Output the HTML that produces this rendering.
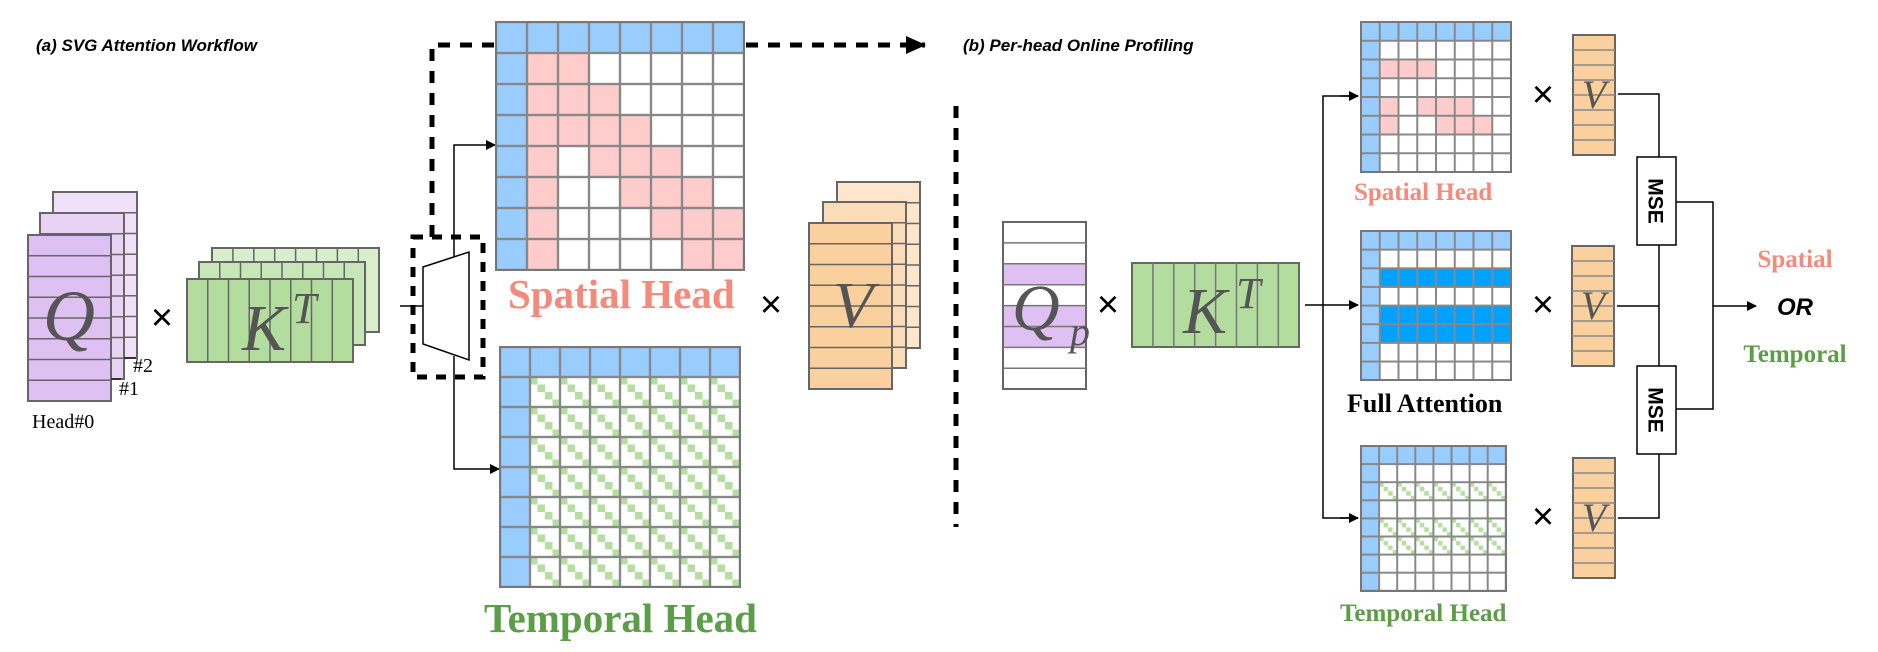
<!DOCTYPE html>
<html><head><meta charset="utf-8"><style>
html,body{margin:0;padding:0;background:#fff}
svg{display:block}
.s{font-family:"Liberation Serif",serif}
.it{font-family:"Liberation Serif",serif;font-style:italic;fill:#555}
.x{font-family:"Liberation Sans",sans-serif;font-size:38px;fill:#000}
</style></head><body>
<svg width="1878" height="652" viewBox="0 0 1878 652" xmlns="http://www.w3.org/2000/svg">
<defs>
<pattern id="g31" patternUnits="userSpaceOnUse" x="496" y="22" width="31" height="31"><rect width="31" height="31" fill="none" stroke="#888" stroke-width="2.4"/></pattern>
<pattern id="g30" patternUnits="userSpaceOnUse" x="500" y="347" width="30" height="30"><rect width="30" height="30" fill="none" stroke="#888" stroke-width="2.4"/></pattern>
<pattern id="t30" patternUnits="userSpaceOnUse" x="530" y="377" width="30" height="30"><rect x="0" y="0" width="7.5" height="7.5" fill="#b5dfa0"/><rect x="7.5" y="7.5" width="7.5" height="7.5" fill="#b5dfa0"/><rect x="15" y="15" width="7.5" height="7.5" fill="#b5dfa0"/><rect x="22.5" y="22.5" width="7.5" height="7.5" fill="#b5dfa0"/></pattern>
<pattern id="gr" patternUnits="userSpaceOnUse" x="1361" y="22" width="18.75" height="18.75"><rect width="18.75" height="18.75" fill="none" stroke="#888" stroke-width="2"/></pattern>
<pattern id="gf" patternUnits="userSpaceOnUse" x="1361" y="231" width="18.75" height="18.65"><rect width="18.75" height="18.65" fill="none" stroke="#888" stroke-width="2"/></pattern>
<pattern id="gt" patternUnits="userSpaceOnUse" x="1361" y="446" width="18.1" height="18.1"><rect width="18.1" height="18.1" fill="none" stroke="#888" stroke-width="2"/></pattern>
<pattern id="tt" patternUnits="userSpaceOnUse" x="1379.1" y="482.2" width="18.1" height="18.1"><rect x="0" y="0" width="4.5" height="4.5" fill="#b5dfa0"/><rect x="4.5" y="4.5" width="4.5" height="4.5" fill="#b5dfa0"/><rect x="9" y="9" width="4.5" height="4.5" fill="#b5dfa0"/><rect x="13.6" y="13.6" width="4.5" height="4.5" fill="#b5dfa0"/></pattern>
<marker id="ah" markerWidth="10" markerHeight="10" refX="9" refY="5" orient="auto" markerUnits="userSpaceOnUse"><path d="M0,0 L10,5 L0,10 z" fill="#000"/></marker>
<marker id="ahb" markerWidth="20" markerHeight="18" refX="19" refY="9" orient="auto" markerUnits="userSpaceOnUse"><path d="M0,0 L20,9 L0,18 z" fill="#000"/></marker>
</defs>

<text x="36" y="51" font-family="Liberation Sans,sans-serif" font-weight="bold" font-style="italic" font-size="17">(a) SVG Attention Workflow</text>
<text x="963" y="51" font-family="Liberation Sans,sans-serif" font-weight="bold" font-style="italic" font-size="17">(b) Per-head Online Profiling</text>

<g stroke="#666" stroke-width="2">
<rect x="53" y="192" width="84" height="166" fill="#f0e0f8"/>
<path d="M53 212.75h84m-84 20.75h84m-84 20.75h84m-84 20.75h84m-84 20.75h84m-84 20.75h84m-84 20.75h84" stroke-width="1.5"/>
<rect x="40" y="213" width="84" height="166" fill="#e9d3f5"/>
<path d="M40 233.75h84m-84 20.75h84m-84 20.75h84m-84 20.75h84m-84 20.75h84m-84 20.75h84m-84 20.75h84" stroke-width="1.5"/>
<rect x="28" y="235" width="83" height="166" fill="#dfc0f2"/>
<path d="M28 255.75h83m-83 20.75h83m-83 20.75h83m-83 20.75h83m-83 20.75h83m-83 20.75h83m-83 20.75h83" stroke-width="1.5"/>
</g>
<path d="M124 358h12M111 379h10" stroke="#000" stroke-width="1"/>
<text class="it" x="69" y="340" font-size="72" text-anchor="middle">Q</text>
<text class="s" x="133" y="372" font-size="20">#2</text>
<text class="s" x="119" y="395" font-size="20">#1</text>
<text class="s" x="32" y="428" font-size="20">Head#0</text>
<text class="x" x="162" y="318" text-anchor="middle" dominant-baseline="central">×</text>

<g stroke="#666" stroke-width="2">
<rect x="212" y="248" width="167" height="84" fill="#d8eecd"/>
<path d="M232.9 248v84m20.9 -84v84m20.9 -84v84m20.9 -84v84m20.9 -84v84m20.9 -84v84m20.9 -84v84" stroke-width="1.5"/>
<rect x="199" y="262" width="166" height="83" fill="#c8e7b8"/>
<path d="M219.75 262v83m20.75 -83v83m20.75 -83v83m20.75 -83v83m20.75 -83v83m20.75 -83v83m20.75 -83v83" stroke-width="1.5"/>
<rect x="187" y="279" width="166" height="83" fill="#b3dd9f"/>
<path d="M207.75 279v83m20.75 -83v83m20.75 -83v83m20.75 -83v83m20.75 -83v83m20.75 -83v83m20.75 -83v83" stroke-width="1.5"/>
</g>
<text class="it" x="242" y="350" font-size="66">K</text>
<text class="it" x="292" y="323" font-size="44">T</text>

<path d="M400 306H423" stroke="#000" stroke-width="1.5"/>
<path d="M423 267L469 252V360L423 344Z" fill="#fff" stroke="#000" stroke-width="1.5"/>
<path d="M454 257V145H495" fill="none" stroke="#000" stroke-width="1.5" marker-end="url(#ah)"/>
<path d="M454 356V469H499" fill="none" stroke="#000" stroke-width="1.5" marker-end="url(#ah)"/>
<rect x="413" y="237" width="70" height="140" fill="none" stroke="#000" stroke-width="5" stroke-dasharray="10,9"/>
<path d="M432 237V45H925" fill="none" stroke="#000" stroke-width="5" stroke-dasharray="12,10" marker-end="url(#ahb)"/>

<rect x="496" y="22" width="248" height="248" fill="#fff"/>
<rect x="496" y="22" width="248" height="31" fill="#99ccff"/>
<rect x="496" y="22" width="31" height="248" fill="#99ccff"/>
<g fill="#ffcccc">
<rect x="527" y="53" width="62" height="31"/>
<rect x="527" y="84" width="93" height="31"/>
<rect x="527" y="115" width="124" height="31"/>
<rect x="527" y="146" width="31" height="31"/><rect x="589" y="146" width="93" height="31"/>
<rect x="527" y="177" width="31" height="31"/><rect x="620" y="177" width="93" height="31"/>
<rect x="527" y="208" width="31" height="31"/><rect x="651" y="208" width="93" height="31"/>
<rect x="527" y="239" width="31" height="31"/><rect x="682" y="239" width="62" height="31"/>
</g>
<rect x="496" y="22" width="248" height="248" fill="url(#g31)" stroke="#777" stroke-width="2"/>
<text x="508" y="308" font-family="Liberation Serif,serif" font-weight="bold" font-size="41" fill="#f4897c">Spatial Head</text>

<rect x="500" y="347" width="240" height="240" fill="#fff"/>
<rect x="530" y="377" width="210" height="210" fill="url(#t30)"/>
<rect x="500" y="347" width="240" height="30" fill="#99ccff"/>
<rect x="500" y="347" width="30" height="240" fill="#99ccff"/>
<rect x="500" y="347" width="240" height="240" fill="url(#g30)" stroke="#777" stroke-width="2"/>
<text x="484" y="632" font-family="Liberation Serif,serif" font-weight="bold" font-size="41" fill="#5b9e47">Temporal Head</text>

<text class="x" x="771" y="305" text-anchor="middle" dominant-baseline="central">×</text>

<g stroke="#666" stroke-width="2">
<rect x="837" y="182" width="83" height="166" fill="#fde6cc"/>
<path d="M837 202.75h83m-83 20.75h83m-83 20.75h83m-83 20.75h83m-83 20.75h83m-83 20.75h83m-83 20.75h83" stroke-width="1.5"/>
<rect x="823" y="202" width="83" height="166" fill="#fbdcb8"/>
<path d="M823 222.75h83m-83 20.75h83m-83 20.75h83m-83 20.75h83m-83 20.75h83m-83 20.75h83m-83 20.75h83" stroke-width="1.5"/>
<rect x="809" y="223" width="83" height="166" fill="#f9d09e"/>
<path d="M809 243.75h83m-83 20.75h83m-83 20.75h83m-83 20.75h83m-83 20.75h83m-83 20.75h83m-83 20.75h83" stroke-width="1.5"/>
</g>
<text class="it" x="853" y="327" font-size="66" text-anchor="middle">V</text>

<path d="M956 106V527" stroke="#000" stroke-width="5" stroke-dasharray="12,10"/>

<rect x="1003" y="222" width="83" height="167" fill="#fff"/>
<g fill="#dfc0f2"><rect x="1003" y="263.8" width="83" height="20.9"/><rect x="1003" y="305.6" width="83" height="41.8"/></g>
<rect x="1003" y="222" width="83" height="167" fill="none" stroke="#666" stroke-width="2"/>
<path d="M1003 242.9h83m-83 20.9h83m-83 20.9h83m-83 20.9h83m-83 20.9h83m-83 20.9h83m-83 20.9h83" stroke="#777" stroke-width="1.5"/>
<text class="it" x="1012" y="330" font-size="66">Q</text>
<text class="it" x="1070" y="345" font-size="40">p</text>
<text class="x" x="1108" y="305" text-anchor="middle" dominant-baseline="central">×</text>

<rect x="1132" y="263" width="167" height="84" fill="#b3dd9f" stroke="#666" stroke-width="2"/>
<path d="M1152.9 263v84m20.9 -84v84m20.9 -84v84m20.9 -84v84m20.9 -84v84m20.9 -84v84m20.9 -84v84" stroke="#777" stroke-width="1.5"/>
<text class="it" x="1183" y="333" font-size="66">K</text>
<text class="it" x="1236" y="308" font-size="44">T</text>

<path d="M1305 305H1358" stroke="#000" stroke-width="1.5" marker-end="url(#ah)"/>
<path d="M1358 96H1323V518H1358" fill="none" stroke="#000" stroke-width="1.5"/>
<path d="M1340 96H1358" stroke="#000" stroke-width="1.5" marker-end="url(#ah)"/>
<path d="M1340 518H1358" stroke="#000" stroke-width="1.5" marker-end="url(#ah)"/>

<rect x="1361" y="22" width="150" height="150" fill="#fff"/>
<rect x="1361" y="22" width="150" height="18.75" fill="#99ccff"/>
<rect x="1361" y="22" width="18.75" height="150" fill="#99ccff"/>
<g fill="#ffcccc">
<rect x="1379.75" y="59.5" width="56.25" height="18.75"/>
<rect x="1379.75" y="97" width="18.75" height="18.75"/><rect x="1417.25" y="97" width="56.25" height="18.75"/>
<rect x="1379.75" y="115.75" width="18.75" height="18.75"/><rect x="1436" y="115.75" width="56.25" height="18.75"/>
</g>
<rect x="1361" y="22" width="150" height="150" fill="url(#gr)" stroke="#777" stroke-width="2"/>
<text x="1354" y="200" font-family="Liberation Serif,serif" font-weight="bold" font-size="25" fill="#f4897c">Spatial Head</text>

<rect x="1361" y="231" width="150" height="149" fill="#fff"/>
<g fill="#00a2ff"><rect x="1379.75" y="268.3" width="131.25" height="18.65"/><rect x="1379.75" y="305.6" width="131.25" height="37.3"/></g>
<rect x="1361" y="231" width="150" height="18.65" fill="#99ccff"/>
<rect x="1361" y="231" width="18.75" height="149" fill="#99ccff"/>
<rect x="1361" y="231" width="150" height="149" fill="url(#gf)" stroke="#777" stroke-width="2"/>
<text x="1347" y="412" font-family="Liberation Serif,serif" font-weight="bold" font-size="26" fill="#000">Full Attention</text>

<rect x="1361" y="446" width="145" height="145" fill="#fff"/>
<rect x="1379.1" y="482.2" width="126.9" height="18.1" fill="url(#tt)"/>
<rect x="1379.1" y="518.4" width="126.9" height="36.2" fill="url(#tt)"/>
<rect x="1361" y="446" width="145" height="18.1" fill="#99ccff"/>
<rect x="1361" y="446" width="18.1" height="145" fill="#99ccff"/>
<rect x="1361" y="446" width="145" height="145" fill="url(#gt)" stroke="#777" stroke-width="2"/>
<text x="1340" y="621" font-family="Liberation Serif,serif" font-weight="bold" font-size="25" fill="#5b9e47">Temporal Head</text>

<text class="x" x="1543" y="95" text-anchor="middle" dominant-baseline="central">×</text>
<text class="x" x="1543" y="305" text-anchor="middle" dominant-baseline="central">×</text>
<text class="x" x="1543" y="517" text-anchor="middle" dominant-baseline="central">×</text>

<g stroke="#666" stroke-width="2" fill="#f9d09e">
<rect x="1573" y="35" width="42" height="120"/>
<rect x="1572" y="246" width="42" height="120"/>
<rect x="1573" y="458" width="42" height="120"/>
</g>
<g stroke="#888" stroke-width="1.5">
<path d="M1573 50h42m-42 15h42m-42 15h42m-42 15h42m-42 15h42m-42 15h42m-42 15h42"/>
<path d="M1572 261h42m-42 15h42m-42 15h42m-42 15h42m-42 15h42m-42 15h42m-42 15h42"/>
<path d="M1573 473h42m-42 15h42m-42 15h42m-42 15h42m-42 15h42m-42 15h42m-42 15h42"/>
</g>
<text class="it" x="1594" y="108" font-size="40" text-anchor="middle">V</text>
<text class="it" x="1593" y="319" font-size="40" text-anchor="middle">V</text>
<text class="it" x="1594" y="531" font-size="40" text-anchor="middle">V</text>

<g fill="none" stroke="#000" stroke-width="1.5">
<path d="M1618 94H1659V157"/>
<path d="M1659 245V366"/>
<path d="M1617 306H1659"/>
<path d="M1659 454V518H1618"/>
<path d="M1676 202H1713V409H1676"/>
<path d="M1713 306H1756" marker-end="url(#ah)"/>
</g>
<rect x="1637" y="157" width="39" height="88" fill="#fff" stroke="#000" stroke-width="1.5"/>
<rect x="1637" y="366" width="39" height="88" fill="#fff" stroke="#000" stroke-width="1.5"/>
<text transform="translate(1649,201) rotate(90)" font-family="Liberation Sans,sans-serif" font-weight="bold" font-size="21" text-anchor="middle" dominant-baseline="central" x="0" y="-6">MSE</text>
<text transform="translate(1649,410) rotate(90)" font-family="Liberation Sans,sans-serif" font-weight="bold" font-size="21" text-anchor="middle" dominant-baseline="central" x="0" y="-6">MSE</text>

<text x="1795" y="267" font-family="Liberation Serif,serif" font-weight="bold" font-size="25" fill="#f4897c" text-anchor="middle">Spatial</text>
<text x="1795" y="315" font-family="Liberation Sans,sans-serif" font-weight="bold" font-style="italic" font-size="24" fill="#000" text-anchor="middle">OR</text>
<text x="1795" y="362" font-family="Liberation Serif,serif" font-weight="bold" font-size="25" fill="#5b9e47" text-anchor="middle">Temporal</text>
</svg>
</body></html>
